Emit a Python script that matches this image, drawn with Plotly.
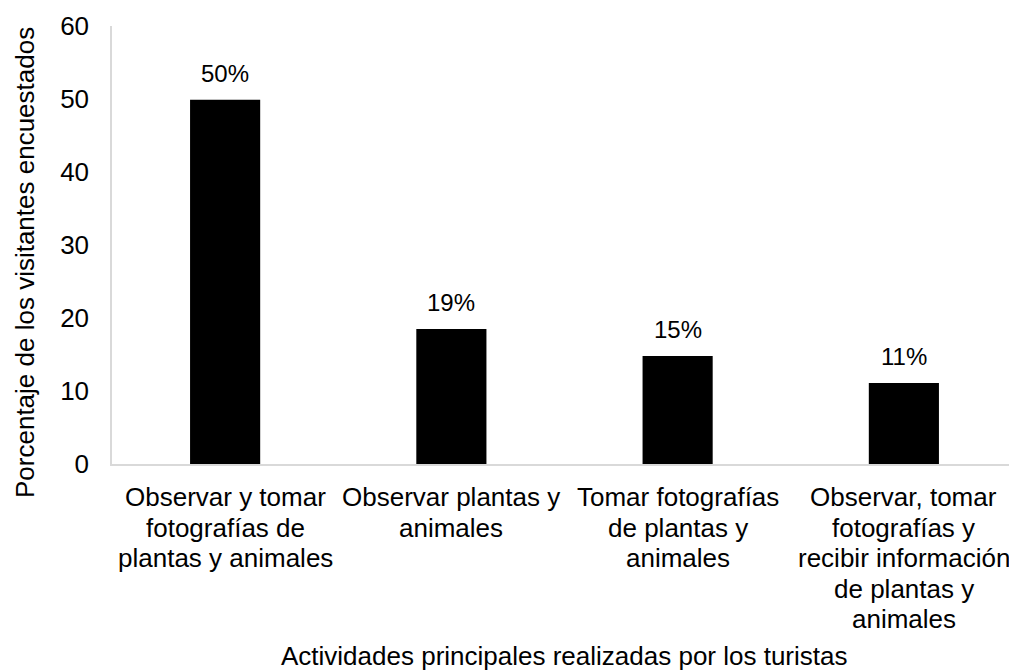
import plotly.graph_objects as go

categories = [
    "Observar y tomar<br>fotografías de<br>plantas y animales",
    "Observar plantas y<br>animales",
    "Tomar fotografías<br>de plantas y<br>animales",
    "Observar, tomar<br>fotografías y<br>recibir información<br>de plantas y<br>animales",
]
values = [49.9, 18.5, 14.8, 11.1]
value_labels = ["50%", "19%", "15%", "11%"]
y_ticks = [0, 10, 20, 30, 40, 50, 60]
x_title = "Actividades principales realizadas por los turistas"
y_title = "Porcentaje de los visitantes encuestados"

FONT = "Liberation Sans, Arial, sans-serif"
TXT = "#000000"

fig = go.Figure()
fig.add_trace(go.Bar(
    x=categories,
    y=values,
    width=0.31,
    marker=dict(color="#000000", line=dict(width=0)),
    hoverinfo="skip",
))

# value labels
for c, v, t in zip(categories, values, value_labels):
    fig.add_annotation(
        x=c, y=v, text=t, showarrow=False, yanchor="bottom",
        yshift=11, font=dict(family=FONT, size=24, color=TXT),
    )

# category labels, one line per annotation for tighter line spacing
for c in categories:
    for i, line in enumerate(c.split("<br>")):
        fig.add_annotation(
            x=c, y=0, text=line, showarrow=False, xanchor="center",
            yanchor="middle", yshift=-(33 + i * 30.5),
            font=dict(family=FONT, size=26, color=TXT),
        )

fig.add_annotation(
    xref="paper", yref="paper", x=0.5, y=0, xanchor="center", yanchor="middle",
    yshift=-192, text=x_title,
    showarrow=False, font=dict(family=FONT, size=26, color=TXT),
)
fig.add_annotation(
    xref="paper", yref="paper", x=0, y=0.5, xanchor="center", yanchor="middle",
    xshift=-87, yshift=-18, textangle=-90, text=y_title, borderpad=0,
    showarrow=False, font=dict(family=FONT, size=26, color=TXT),
)

fig.update_layout(
    width=1009, height=663,
    margin=dict(l=104, r=0, t=18, b=207),
    paper_bgcolor="white", plot_bgcolor="white",
    showlegend=False,
    font=dict(family=FONT, size=26, color=TXT),
)
fig.update_xaxes(
    type="category", range=[-0.5, 3.5],
    showline=True, linecolor="#d9d9d9", linewidth=1.5,
    showgrid=False, ticks="", showticklabels=False,
)
fig.update_yaxes(
    range=[0, 60], tickvals=y_ticks,
    showline=True, linecolor="#d9d9d9", linewidth=1.5,
    showgrid=False, zeroline=False, ticks="", ticklabelstandoff=16,
    tickfont=dict(family=FONT, size=26, color=TXT),
)

fig.write_html("out.html")
